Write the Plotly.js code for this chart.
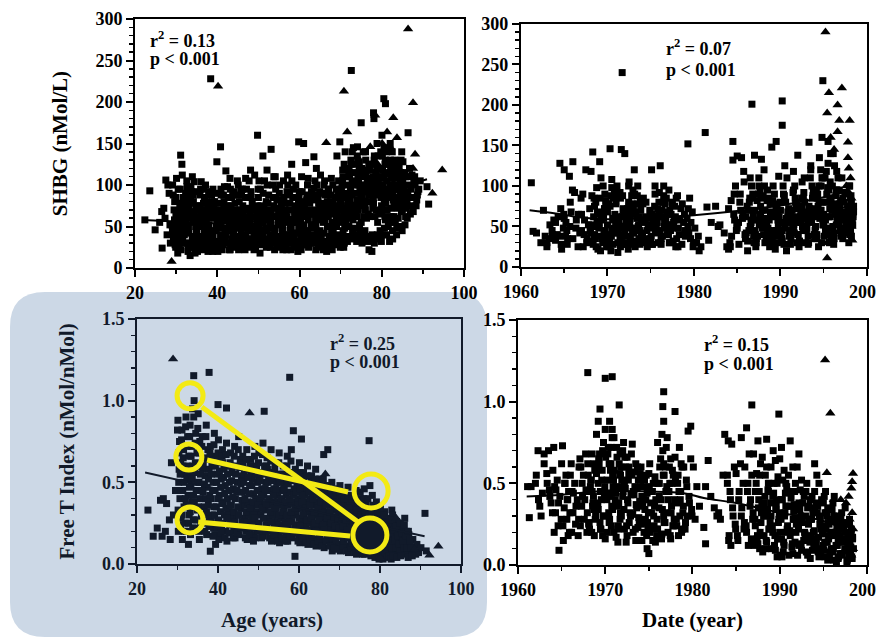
<!DOCTYPE html>
<html>
<head>
<meta charset="utf-8">
<script src="https://cdn.plot.ly/plotly-3.0.1.min.js"></script>
<style>html,body{margin:0;padding:0;background:#fff;}#chart{width:876px;height:638px;}</style>
</head>
<body>
<div id="chart"></div>
<script>
// ---------- Panel 1: Age vs SHBG ----------
const ageSq1 = [
22.4,23.6,24.9,26.6,26.5,27.0,27.5,28.0,28.3,28.5,27.8,28.6,26.0,27.3,
29.1,29.5,29.8,29.3,29.6,29.9,
30.1,30.5,30.8,30.3,30.6,30.9,30.2,30.4,
31.1,31.5,31.8,31.3,31.6,31.9,31.2,31.4,
32.1,32.5,32.8,32.3,32.6,32.9,32.2,32.4,
33.1,33.5,33.8,33.3,33.6,33.9,33.2,33.4,
34.1,34.5,34.8,34.3,34.6,34.9,34.2,34.4,
35.1,35.5,35.8,35.3,35.6,35.9,35.2,
36.1,36.5,36.8,36.3,36.6,36.9,36.2,
37.1,37.5,37.8,37.3,37.6,37.9,37.2,
38.1,38.5,38.8,38.3,38.6,38.9,38.2,
38.4,39.5,39.8,39.3,39.6,39.9,39.2,
39.9,40.5,40.8,40.3,40.6,40.9,40.2,
40.8,41.5,41.8,41.3,41.6,41.9,41.2,
42.1,42.5,42.8,42.3,42.6,42.9,42.2,
43.1,43.5,43.8,43.3,43.6,43.9,43.2,
44.1,44.5,44.8,44.3,44.6,44.9,44.2,
45.1,45.5,45.8,45.3,45.6,45.9,45.2,
46.1,46.5,46.8,46.3,46.6,46.9,46.2,
47.1,47.5,47.8,47.3,47.6,47.9,47.2,
48.1,48.5,48.8,48.3,48.6,48.9,48.2,
49.1,49.5,49.8,49.3,49.6,49.9,49.2,
49.8,50.5,50.8,50.3,50.6,50.9,50.2,50.4,
51.1,51.5,51.8,51.3,51.6,51.9,51.2,
52.1,52.5,52.8,52.3,52.6,52.9,52.2,
53.1,53.5,53.8,53.3,53.6,53.9,53.2,
54.1,54.5,54.8,54.3,54.6,54.9,54.2,
55.1,55.5,55.8,55.3,55.6,55.9,55.2,
56.1,56.5,56.8,56.3,56.6,56.9,56.2,
57.1,57.5,57.8,57.3,57.6,57.9,57.2,
58.1,58.5,58.8,58.3,58.6,58.9,58.2,
59.1,59.5,59.8,59.3,59.6,59.9,59.2,
59.8,60.5,60.8,60.3,60.6,60.9,60.2,60.4,
61.0,61.5,61.8,61.3,61.6,61.9,61.2,
62.1,62.5,62.8,62.3,62.6,62.9,62.2,
63.5,63.5,63.8,63.3,63.6,63.9,63.2,
64.1,64.5,64.8,64.3,64.6,64.9,64.2,
65.1,65.5,65.8,65.3,65.6,65.9,65.2,
66.1,66.5,66.8,66.3,66.6,66.9,66.2,
67.1,67.5,67.8,67.3,67.6,67.9,67.2,
68.1,68.5,68.8,68.3,68.6,68.9,68.2,
69.1,69.5,69.8,69.3,69.6,69.9,69.2,
69.8,70.5,70.8,70.3,70.6,70.9,70.2,
71.1,71.5,71.8,71.3,71.6,71.9,71.2,
72.6,72.5,72.8,72.3,72.6,72.9,72.2,72.4,
73.1,73.5,73.8,73.3,73.6,73.9,73.2,
74.1,74.5,74.8,74.3,74.6,74.9,74.2,
75.0,75.5,75.8,75.3,75.6,75.9,75.2,75.4,
76.1,76.5,76.8,76.3,76.6,76.9,76.2,
77.1,77.5,77.8,77.3,77.6,77.9,77.2,
78.0,78.1,78.8,78.3,78.6,78.9,78.2,78.4,
79.1,79.5,79.8,79.3,79.6,79.9,79.2,
80.5,80.9,80.8,80.3,80.6,80.9,80.2,80.4,
81.1,81.5,81.8,81.3,81.6,81.9,81.2,
82.1,82.5,82.8,82.3,82.6,82.9,82.2,
83.1,83.5,83.8,83.3,83.6,83.9,83.2,
84.1,84.5,84.8,84.3,84.6,84.9,
85.1,85.5,85.8,85.3,85.6,
86.4,86.2,86.5,86.8,86.1,
87.1,87.5,87.8,
88.1,88.5,88.8,
91.0,91.4
];
const shbgSq1 = [
58,93,46,24,68,72,106,100,90,52,40,30,55,60,
45,70,32,88,58,25,
108,95,62,40,28,75,50,18,
136,112,85,55,38,70,22,125,
65,48,30,90,105,20,78,58,
42,85,25,60,98,35,72,15,
55,92,30,68,18,45,80,104,
38,62,88,25,50,75,20,
104,70,45,30,58,85,22,
52,80,35,65,25,92,42,
28,60,75,45,88,20,38,
228,70,50,32,90,22,62,
128,55,40,78,25,95,65,
146,88,60,35,72,48,22,
117,98,50,30,75,62,40,
108,85,55,28,68,42,95,
92,60,35,78,48,105,25,
100,70,45,30,58,88,22,
65,40,85,52,28,108,75,
95,55,35,72,45,25,62,
118,80,50,30,62,40,92,
112,70,45,25,58,85,35,
160,95,60,40,75,28,50,18,
135,105,65,45,30,80,55,
118,88,52,35,70,25,60,
143,100,75,48,30,62,40,
110,82,58,38,25,68,95,
90,65,45,28,75,52,35,
105,78,55,35,62,22,85,
112,70,48,30,88,58,40,
125,95,65,42,25,75,55,
100,72,50,32,20,85,60,
152,110,80,55,35,68,45,22,
150,127,88,62,40,28,75,
108,78,52,35,65,92,25,
134,96,70,48,30,58,82,
120,85,60,42,25,72,100,
112,78,55,38,65,90,28,
105,75,50,32,20,62,88,
95,68,45,28,80,55,38,
100,72,52,35,85,60,42,
135,105,80,58,40,25,68,
152,118,88,62,45,30,75,
140,100,78,55,38,65,90,
238,130,105,82,60,42,70,95,
145,115,90,65,48,32,75,
146,120,95,70,52,38,82,
175,140,110,85,62,45,30,100,
130,105,80,60,38,22,92,
125,98,72,35,20,110,88,
187,180,120,95,70,40,30,105,
135,110,85,65,45,32,120,
204,198,125,100,78,58,40,90,
140,115,90,70,50,32,105,
130,108,82,62,45,95,72,
120,95,72,55,40,85,108,
110,88,68,50,98,75,
105,80,62,92,115,
163,60,100,85,75,
95,75,105,
100,82,92,
98,77
];
// second block of readings, panel 1
const ageSqB1 = [
29.0,29.35,29.65,29.95,29.15,29.75,
30.0,30.35,30.65,30.95,30.15,30.75,
31.0,31.35,31.65,31.95,31.15,31.75,
32.0,32.35,32.65,32.95,32.15,32.75,
33.0,33.35,33.65,33.95,33.15,33.75,
34.0,34.35,34.65,34.95,34.15,34.75,
35.0,35.35,35.65,35.95,35.15,35.75,
36.0,36.35,36.65,36.95,36.15,36.75,
37.0,37.35,37.65,37.95,37.15,37.75,
38.0,38.35,38.65,38.95,38.15,38.75,
39.0,39.35,39.65,39.95,39.15,39.75,
40.0,40.35,40.65,40.95,40.15,40.75,
41.0,41.35,41.65,41.95,41.15,41.75,
42.0,42.35,42.65,42.95,42.15,42.75,
43.0,43.35,43.65,43.95,43.15,43.75,
44.0,44.35,44.65,44.95,44.15,44.75,
45.0,45.35,45.65,45.95,45.15,45.75,
46.0,46.35,46.65,46.95,46.15,46.75,
47.0,47.35,47.65,47.95,47.15,47.75,
48.0,48.35,48.65,48.95,48.15,48.75,
49.0,49.35,49.65,49.95,49.15,49.75,
50.0,50.35,50.65,50.95,50.15,50.75,
51.0,51.35,51.65,51.95,51.15,51.75,
52.0,52.35,52.65,52.95,52.15,52.75,
53.0,53.35,53.65,53.95,53.15,53.75,
54.0,54.35,54.65,54.95,54.15,54.75,
55.0,55.35,55.65,55.95,55.15,55.75,
56.0,56.35,56.65,56.95,56.15,56.75,
57.0,57.35,57.65,57.95,57.15,57.75,
58.0,58.35,58.65,58.95,58.15,58.75,
59.0,59.35,59.65,59.95,59.15,59.75,
60.0,60.35,60.65,60.95,60.15,60.75,
61.0,61.35,61.65,61.95,61.15,61.75,
62.0,62.35,62.65,62.95,62.15,62.75,
63.0,63.35,63.65,63.95,63.15,63.75,
64.0,64.35,64.65,64.95,64.15,64.75,
65.0,65.35,65.65,65.95,65.15,65.75,
66.0,66.35,66.65,66.95,66.15,66.75,
67.0,67.35,67.65,67.95,67.15,67.75,
68.0,68.35,68.65,68.95,68.15,68.75,
69.0,69.35,69.65,69.95,69.15,69.75,
70.0,70.35,70.65,70.95,70.15,70.75,
71.0,71.35,71.65,71.95,71.15,71.75,
72.0,72.35,72.65,72.95,72.15,72.75,
73.0,73.35,73.65,73.95,73.15,73.75,
74.0,74.35,74.65,74.95,74.15,74.75,
75.0,75.35,75.65,75.95,75.15,75.75,
76.0,76.35,76.65,76.95,76.15,76.75,
77.0,77.35,77.65,77.95,77.15,77.75,
78.0,78.35,78.65,78.95,78.15,78.75,
79.0,79.35,79.65,79.95,79.15,79.75,
80.0,80.35,80.65,80.95,80.15,80.75,
81.0,81.35,81.65,81.95,81.15,81.75,
82.0,82.35,82.65,82.95,82.15,82.75,
83.0,83.35,83.65,83.95,83.15,83.75,
84.0,84.35,84.65,84.95,84.15,84.75,
85.0,85.35,85.65,85.95,85.15,85.75,
86.0,86.35,86.65,86.95,86.15,86.75,
87.0,87.35,87.65,
88.0,88.35,88.65,
89.0,89.35
];
const shbgSqB1 = [
52,38,80,65,100,28,
85,55,35,68,45,25,
95,62,45,30,78,50,
40,72,98,25,55,85,
50,30,78,110,65,92,
38,62,25,75,88,50,
45,70,32,95,55,28,
52,38,78,25,65,95,
30,58,72,45,100,20,
52,32,68,95,25,80,
40,80,28,55,75,45,
32,70,48,88,20,58,
52,28,80,42,65,98,
35,58,85,22,68,45,
48,75,35,62,22,88,
42,70,28,88,55,65,
52,80,38,65,25,95,
48,32,70,58,95,22,
40,85,28,65,52,105,
55,35,72,22,85,45,
48,30,65,95,40,75,
85,45,32,68,105,55,
38,72,58,25,90,48,
45,78,30,62,100,40,
55,35,85,22,68,110,
45,72,30,62,85,52,
58,38,82,22,100,48,
45,70,28,92,58,40,
62,35,78,22,100,52,
48,85,32,68,105,38,
42,65,28,92,55,78,
62,38,92,28,75,50,
52,35,68,100,45,82,
45,70,30,85,58,40,
65,38,88,22,52,105,
50,32,78,92,65,38,
45,70,32,100,58,22,
42,68,28,95,58,80,
62,35,88,22,72,108,
48,65,28,95,78,38,
50,88,32,95,75,60,
55,100,38,68,82,25,
48,85,32,110,62,72,
50,90,35,75,115,65,
58,100,40,82,125,68,
62,105,45,88,130,75,
55,92,38,72,120,78,
70,118,32,88,100,65,
62,105,40,82,118,92,
78,62,112,88,130,35,
55,95,38,75,102,140,
68,110,48,85,135,62,
78,125,58,98,40,85,
55,100,35,75,118,88,
62,112,48,80,130,100,
60,82,102,45,120,92,
70,98,52,85,128,110,
72,92,110,65,80,120,
85,112,68,
110,75,88,
95,105
];
// third block of readings, panel 1 (upper band of older ages)
const ageSqC1 = [
70.2,70.55,70.85,70.45,70.05,70.7,
72.2,72.55,72.85,72.45,72.05,72.7,
74.2,74.55,74.85,74.45,74.05,74.7,
76.2,76.55,76.85,76.45,76.05,76.7,
78.2,78.55,78.85,78.45,78.05,78.7,
80.2,80.55,80.85,80.45,80.05,80.7,
82.2,82.55,82.85,82.45,82.05,82.7,
84.2,84.55,84.85,84.45,84.05,84.7
];
const shbgSqC1 = [
95,110,125,105,85,70,
110,125,140,98,120,88,
108,128,115,100,135,92,
112,100,125,95,140,108,
135,115,150,100,125,108,
118,145,130,108,160,95,
112,140,125,100,150,118,
125,108,140,115,95,130
];
const ageTri1 = [28.9,40.2,66.5,70.8,71.6,77.2,78.4,80.1,81.3,82.0,82.8,83.7,84.5,85.2,86.4,87.6,88.1,87.6,92.3,94.7,79.0,80.5];
const shbgTri1 = [8,219,151,213,164,146,184,150,164,146,181,157,118,102,288,199,137,120,90,118,125,112];
const trendAge1 = [22,30,40,50,60,70,80,91];
const trendShbg1 = [58,56,54,57,63,74,90,107];

// ---------- Panel 2: Date vs SHBG ----------
const dateSq2 = [
1961.2,1961.4,1961.8,
1962.3,1962.6,1962.8,
1963.0,1963.3,1963.6,1963.8,
1964.0,1964.3,1964.5,1964.7,1964.9,1964.6,1964.2,
1965.0,1965.2,1965.4,1965.6,1965.8,1965.3,1965.7,
1966.0,1966.2,1966.4,1966.6,1966.8,
1967.0,1967.3,1967.5,1967.8,1967.6,1967.2,
1968.1,1968.5,1968.8,1968.3,1968.6,1968.9,1968.2,1968.4,
1969.1,1969.5,1969.8,1969.3,1969.6,1969.9,1969.2,1969.4,1969.7,1969.0,
1970.3,1970.5,1970.8,1970.3,1970.6,1970.9,1970.2,1970.4,1970.7,1970.0,1970.45,
1971.1,1971.5,1971.8,1971.3,1971.6,1971.9,1971.2,1971.4,1971.7,1971.0,1971.45,
1971.7,1971.6,1972.0,1972.5,1972.8,1972.3,1972.6,1972.9,1972.2,1972.4,1972.7,1972.1,1972.45,
1973.1,1973.5,1973.8,1973.3,1973.6,1973.9,1973.2,1973.4,1973.7,1973.0,
1974.1,1974.5,1974.8,1974.3,1974.6,1974.9,1974.2,
1975.1,1975.5,1975.8,1975.3,1975.6,1975.9,1975.2,1975.4,
1976.1,1976.5,1976.8,1976.3,1976.6,1976.9,1976.2,1976.4,1976.7,1976.0,
1977.1,1977.5,1977.8,1977.3,1977.6,1977.9,1977.2,1977.4,
1978.1,1978.5,1978.8,1978.3,1978.6,1978.9,1978.2,
1979.3,1979.5,1979.8,1979.3,1979.6,1979.9,1979.2,1979.4,
1980.1,1980.5,1980.8,1980.3,1980.6,
1981.3,1981.5,1981.7,
1982.0,1982.5,1982.8,
1983.0,1983.5,1983.8,
1984.5,1984.5,1984.8,1984.3,1984.6,1984.9,1984.2,1984.0,1984.7,
1985.0,1985.5,1985.8,1985.3,1985.6,1985.9,1985.2,1985.4,
1986.7,1986.5,1986.8,1986.3,1986.6,1986.9,1986.2,1986.4,
1987.0,1987.8,1987.5,1987.3,1987.6,1987.9,1987.2,1987.4,1987.7,1987.1,
1988.1,1988.5,1988.8,1988.3,1988.6,1988.9,1988.2,1988.4,1988.7,1988.0,
1989.0,1989.5,1989.8,1989.3,1989.6,1989.9,1989.2,1989.4,1989.7,1989.1,
1990.2,1990.2,1990.5,1990.3,1990.6,1990.9,1990.2,1990.4,1990.7,1990.0,1990.8,
1991.5,1991.5,1991.8,1991.3,1991.6,1991.9,1991.2,1991.4,1991.7,
1992.0,1992.5,1992.8,1992.3,1992.6,1992.9,1992.2,1992.4,1992.7,
1993.3,1993.5,1993.8,1993.3,1993.6,1993.9,1993.2,1993.4,1993.7,1993.0,
1994.9,1994.5,1994.8,1994.3,1994.6,1994.9,1994.2,1994.4,1994.7,1994.0,1994.45,
1994.8,1995.5,1995.8,1995.3,1995.6,1995.9,1995.2,1995.4,1995.7,1995.0,1995.45,1995.75,
1996.1,1996.5,1996.8,1996.3,1996.6,1996.9,1996.2,1996.4,1996.7,1996.0,1996.45,
1997.1,1997.5,1997.8,1997.3,1997.6,1997.9,1997.2,1997.4,1997.7,
1998.0,1998.2,1998.4,1998.1,1998.3,1997.9
];
const shbgSq2 = [
104,44,42,
30,70,38,
25,35,45,58,
33,62,128,22,48,72,40,
120,55,35,112,68,45,80,
130,92,58,25,42,
65,40,120,52,30,25,
118,75,55,142,35,22,88,62,
130,100,78,58,42,28,20,65,90,48,
146,108,92,75,60,45,32,20,85,52,38,
100,85,70,55,40,28,18,62,48,95,35,
240,145,140,105,88,72,58,42,30,22,65,50,80,
120,100,82,68,52,38,25,60,45,30,
78,62,48,35,25,70,55,
120,90,72,58,42,30,65,50,
125,100,85,70,55,40,28,62,48,92,
95,78,60,45,32,25,70,52,
88,72,55,40,28,65,48,
152,85,68,50,35,25,60,42,
48,38,25,30,20,
166,74,33,
55,75,50,
52,42,25,
155,132,100,82,65,45,25,22,58,
137,135,105,80,60,40,28,70,
201,110,90,70,55,38,20,80,
138,133,100,82,65,48,30,58,75,40,
120,95,78,60,45,28,70,52,38,88,
148,155,112,90,72,55,38,22,65,82,
205,175,125,100,80,62,45,28,20,70,55,
118,95,75,58,42,30,65,50,85,
138,105,80,62,45,30,72,55,92,
154,120,95,75,58,40,28,65,85,50,
230,135,110,90,70,52,35,25,100,62,80,
160,155,140,118,95,75,58,40,85,65,48,105,
140,118,95,78,60,45,35,88,70,100,52,
110,92,75,58,42,30,85,65,50,
100,80,62,45,70,55
];
// second block of readings, panel 2
const dateSqB2 = [
1963.0,1963.35,1963.65,
1964.0,1964.35,1964.65,1964.95,
1965.0,1965.35,1965.65,1965.95,1965.15,
1966.0,1966.35,1966.65,1966.95,
1967.0,1967.35,1967.65,1967.95,1967.15,
1968.0,1968.35,1968.65,1968.95,1968.15,1968.75,1968.5,
1969.0,1969.35,1969.65,1969.95,1969.15,1969.75,1969.5,1969.25,
1970.0,1970.35,1970.65,1970.95,1970.15,1970.75,1970.5,1970.25,
1971.0,1971.35,1971.65,1971.95,1971.15,1971.75,1971.5,1971.25,
1972.0,1972.35,1972.65,1972.95,1972.15,1972.75,1972.5,1972.25,
1973.0,1973.35,1973.65,1973.95,1973.15,1973.75,1973.5,
1974.0,1974.35,1974.65,1974.95,1974.15,1974.75,
1975.0,1975.35,1975.65,1975.95,1975.15,1975.75,1975.5,
1976.0,1976.35,1976.65,1976.95,1976.15,1976.75,1976.5,
1977.0,1977.35,1977.65,1977.95,1977.15,1977.75,
1978.0,1978.35,1978.65,1978.95,1978.15,
1979.0,1979.35,1979.65,1979.95,
1984.0,1984.35,1984.65,1984.95,1984.15,
1985.0,1985.35,1985.65,1985.95,1985.15,1985.75,
1986.0,1986.35,1986.65,1986.95,1986.15,1986.75,1986.5,
1987.0,1987.35,1987.65,1987.95,1987.15,1987.75,1987.5,
1988.0,1988.35,1988.65,1988.95,1988.15,1988.75,1988.5,
1989.0,1989.35,1989.65,1989.95,1989.15,1989.75,1989.5,
1990.0,1990.35,1990.65,1990.95,1990.15,1990.75,1990.5,
1991.0,1991.35,1991.65,1991.95,1991.15,1991.75,1991.5,
1992.0,1992.35,1992.65,1992.95,1992.15,1992.75,1992.5,
1993.0,1993.35,1993.65,1993.95,1993.15,1993.75,1993.5,1993.25,
1994.0,1994.35,1994.65,1994.95,1994.15,1994.75,1994.5,1994.25,1994.85,
1995.0,1995.35,1995.65,1995.95,1995.15,1995.75,1995.5,1995.25,1995.85,
1996.0,1996.35,1996.65,1996.95,1996.15,1996.75,1996.5,1996.25,1996.85,
1997.0,1997.35,1997.65,1997.95,1997.15,1997.75,1997.5,1997.25,
1998.0,1998.35,1998.15,1998.25,1998.45
];
const shbgSqB2 = [
30,52,40,
55,38,28,65,
60,28,50,95,38,
35,48,65,85,
45,58,35,72,90,
45,28,80,65,52,98,40,
55,35,72,25,85,45,62,110,
68,40,28,55,78,48,98,35,
78,52,30,65,42,88,25,58,
45,68,35,95,55,28,75,62,
72,48,35,58,90,28,78,
42,58,30,68,85,50,
35,62,48,80,28,55,100,
65,38,78,52,30,58,88,
40,65,55,85,30,75,
35,58,78,45,25,
38,72,55,30,
72,38,90,52,30,
48,90,65,35,55,118,
62,45,100,30,75,85,50,
70,38,92,55,25,85,110,
55,35,85,65,100,25,42,
45,62,30,80,100,50,70,
38,90,58,72,35,110,48,
38,70,100,55,28,80,45,
40,65,85,50,25,110,75,
45,72,100,35,58,88,125,30,
45,75,120,58,95,30,68,85,110,
52,90,30,70,110,62,128,80,35,
40,65,110,82,28,55,95,125,72,
38,80,55,100,68,45,90,60,
40,65,88,58,75
];
// third block of readings, panel 2 (densest years)
const dateSqC2 = [
1968.2,1968.55,1968.85,1968.45,1968.05,1968.7,
1969.2,1969.55,1969.85,1969.45,1969.05,1969.7,
1970.2,1970.55,1970.85,1970.45,1970.05,1970.7,
1971.2,1971.55,1971.85,1971.45,1971.05,1971.7,
1972.2,1972.55,1972.85,1972.45,1972.05,1972.7,
1973.2,1973.55,1973.85,1973.45,1973.05,1973.7,
1974.2,1974.55,1974.85,1974.45,1974.05,1974.7,
1975.2,1975.55,1975.85,1975.45,1975.05,1975.7,
1976.2,1976.55,1976.85,1976.45,1976.05,1976.7,
1977.2,1977.55,1977.85,1977.45,1977.05,1977.7,
1986.2,1986.55,1986.85,1986.45,1986.05,1986.7,
1987.2,1987.55,1987.85,1987.45,1987.05,1987.7,
1988.2,1988.55,1988.85,1988.45,1988.05,1988.7,
1989.2,1989.55,1989.85,1989.45,1989.05,1989.7,
1990.2,1990.55,1990.85,1990.45,1990.05,1990.7,
1991.2,1991.55,1991.85,1991.45,1991.05,1991.7,
1992.2,1992.55,1992.85,1992.45,1992.05,1992.7,
1993.2,1993.55,1993.85,1993.45,1993.05,1993.7,
1994.2,1994.55,1994.85,1994.45,1994.05,1994.7,
1995.2,1995.55,1995.85,1995.45,1995.05,1995.7,
1996.2,1996.55,1996.85,1996.45,1996.05,1996.7,
1997.2,1997.55,1997.85,1997.45,1997.05,1997.7,
1998.2,1998.35,1998.45,1998.1,1998.05,1998.3
];
const shbgSqC2 = [
32,50,68,85,42,25,
38,60,82,30,52,72,
25,45,65,88,35,58,
30,50,72,92,42,62,
38,55,78,100,28,48,
32,50,70,88,42,62,
30,45,60,80,38,52,
28,45,62,75,38,55,
35,50,68,80,45,60,
30,48,62,80,40,58,
32,48,65,85,42,58,
35,52,70,90,45,62,
30,48,68,82,40,58,
28,45,62,78,35,58,
32,50,68,88,42,60,
35,52,72,92,45,62,
32,50,68,85,40,60,
38,55,72,110,48,65,
40,60,80,100,50,70,
45,62,80,98,38,72,
42,60,78,95,50,68,
35,55,72,92,48,62,
38,52,68,85,45,60
];
const dateTri2 = [1995.2,1997.1,1995.6,1996.6,1995.4,1996.8,1998.0,1996.6,1997.8,1997.8,1997.9,1998.3,1995.4,1995.4,1998.1,1997.6,1997.9,1998.2,1997.7,1998.0,1997.5,1998.2,1996.2,1995.8];
const shbgTri2 = [290,221,215,200,190,181,181,167,154,135,122,33,11,30,110,100,92,85,75,68,60,50,145,160];
const trendDate2 = [1961,1964,1967,1970,1975,1980,1985,1990,1995,1997.5];
const trendShbg2 = [70,66,61,59,61,64,69,76,86,93];

// ---------- Panel 3: Age vs Free T Index ----------
const ageSq3 = [
22.7,24.0,25.0,25.8,26.5,26.2,27.0,27.3,28.0,28.5,29.5,29.0,28.2,
30.1,30.5,30.8,30.3,30.6,30.9,30.2,30.4,
31.1,31.5,31.8,31.3,31.6,31.9,31.2,31.4,
32.1,32.5,32.8,32.3,32.6,32.9,32.2,32.4,32.7,
33.1,33.5,33.8,33.3,33.6,33.9,33.2,33.4,33.7,
34.1,34.5,34.8,34.3,34.6,34.9,34.2,34.4,
35.1,35.5,35.8,35.3,35.6,35.9,35.2,35.4,
36.1,36.5,36.8,36.3,36.6,36.9,36.2,
37.1,37.5,37.8,37.3,37.6,37.9,37.2,
38.1,38.5,38.8,38.3,38.6,38.9,38.2,
39.1,39.5,39.8,39.3,39.6,39.9,39.2,39.4,
40.1,40.5,40.8,40.3,40.6,40.9,40.2,
41.1,41.5,41.8,41.3,41.6,41.9,41.2,
42.1,42.5,42.8,42.3,42.6,42.9,42.2,
43.1,43.5,43.8,43.3,43.6,43.9,43.2,
44.1,44.5,44.8,44.3,44.6,44.9,44.2,
45.1,45.5,45.8,45.3,45.6,45.9,45.2,
46.1,46.5,46.8,46.3,46.6,46.9,46.2,
47.1,47.5,47.8,47.3,47.6,47.9,47.2,
48.1,48.5,48.8,48.3,48.6,48.9,48.2,
49.1,49.5,49.8,49.3,49.6,49.9,49.2,
50.1,50.5,50.8,50.3,50.6,50.9,50.2,
51.1,51.5,51.8,51.3,51.6,51.9,51.2,
52.1,52.5,52.8,52.3,52.6,52.9,52.2,
53.1,53.5,53.8,53.3,53.6,53.9,53.2,
54.1,54.5,54.8,54.3,54.6,54.9,54.2,
55.1,55.5,55.8,55.3,55.6,55.9,55.2,
56.1,56.5,56.8,56.3,56.6,56.9,56.2,
57.1,57.5,57.8,57.3,57.6,57.9,57.2,
58.1,58.5,58.8,58.3,58.6,58.9,58.2,
59.1,59.5,59.8,59.3,59.6,59.9,59.2,
60.1,60.5,60.8,60.3,60.6,60.9,60.2,
61.1,61.5,61.8,61.3,61.6,61.9,61.2,
62.1,62.5,62.8,62.3,62.6,62.9,62.2,
63.1,63.5,63.8,63.3,63.6,63.9,63.2,
64.1,64.5,64.8,64.3,64.6,64.9,64.2,
65.1,65.5,65.8,65.3,65.6,65.9,65.2,
66.1,66.5,66.8,66.3,66.6,66.9,66.2,
67.1,67.5,67.8,67.3,67.6,67.9,67.2,
68.1,68.5,68.8,68.3,68.6,68.9,68.2,
69.1,69.5,69.8,69.3,69.6,69.9,69.2,
70.1,70.5,70.8,70.3,70.6,70.9,70.2,
71.1,71.5,71.8,71.3,71.6,71.9,71.2,
72.1,72.5,72.8,72.3,72.6,72.9,72.2,
73.1,73.5,73.8,73.3,73.6,73.9,73.2,
74.1,74.5,74.8,74.3,74.6,74.9,74.2,
75.1,75.5,75.8,75.3,75.6,75.9,75.2,
76.1,76.5,76.8,76.3,76.6,76.9,76.2,
77.3,77.5,77.8,77.3,77.6,77.9,77.2,
78.1,78.5,78.8,78.3,78.6,78.9,78.2,
79.1,79.5,79.8,79.3,79.6,79.9,79.2,
80.1,80.5,80.8,80.3,80.6,80.9,80.2,
81.1,81.5,81.8,81.3,81.6,81.9,
82.1,82.5,82.8,82.3,82.6,82.9,
83.1,83.5,83.8,83.3,83.6,
84.1,84.5,84.8,84.3,84.6,
85.1,85.5,85.8,85.3,
86.1,86.5,86.8,86.3,
87.1,87.5,87.8,
88.1,88.5,88.8,
89.1,89.5,
90.1,
91.1,91.4,
34.0,37.8,40.0,42.1,51.4,57.7,58.6,60.6,38.1,59.0
];
const ftiSq3 = [
0.33,0.17,0.22,0.39,0.40,0.17,0.20,0.37,0.27,0.62,0.45,0.30,0.15,
0.88,0.75,0.62,0.5,0.4,0.28,0.2,0.58,
0.82,0.7,0.55,0.45,0.35,0.25,0.15,0.65,
0.9,0.78,0.66,0.52,0.42,0.3,0.2,0.6,0.12,
0.85,0.72,0.6,0.48,0.38,0.27,0.18,0.55,0.95,
1.0,0.8,0.68,0.56,0.45,0.33,0.22,0.62,
0.92,0.75,0.6,0.5,0.4,0.3,0.2,0.15,
0.78,0.65,0.54,0.44,0.35,0.25,0.58,
0.85,0.7,0.58,0.47,0.36,0.28,0.18,
0.72,0.6,0.5,0.4,0.3,0.22,0.65,
0.8,0.66,0.55,0.45,0.35,0.26,0.18,0.12,
0.76,0.62,0.52,0.42,0.32,0.22,0.15,
0.7,0.58,0.48,0.38,0.3,0.2,0.62,
0.74,0.6,0.5,0.4,0.32,0.24,0.14,
0.68,0.56,0.46,0.36,0.28,0.2,0.6,
0.72,0.6,0.5,0.4,0.3,0.22,0.16,
0.78,0.64,0.54,0.44,0.34,0.26,0.18,
0.66,0.55,0.45,0.36,0.28,0.2,0.6,
0.7,0.58,0.48,0.38,0.3,0.22,0.15,
0.64,0.52,0.43,0.34,0.26,0.18,0.56,
0.72,0.6,0.5,0.4,0.32,0.24,0.16,
0.68,0.56,0.46,0.38,0.3,0.2,0.52,
0.74,0.6,0.5,0.42,0.33,0.24,0.17,
0.65,0.54,0.45,0.36,0.28,0.2,0.58,
0.7,0.56,0.46,0.38,0.3,0.22,0.14,
0.62,0.5,0.42,0.34,0.26,0.18,0.54,
0.68,0.55,0.45,0.36,0.28,0.2,0.13,
0.6,0.5,0.42,0.34,0.26,0.18,0.46,
0.66,0.54,0.44,0.36,0.28,0.2,0.14,
0.7,0.56,0.46,0.38,0.3,0.22,0.16,
0.58,0.48,0.4,0.32,0.24,0.18,0.52,
0.62,0.5,0.42,0.34,0.27,0.2,0.13,
0.56,0.46,0.38,0.3,0.23,0.16,0.5,
0.6,0.48,0.4,0.32,0.25,0.18,0.12,
0.54,0.44,0.36,0.29,0.22,0.15,0.48,
0.58,0.46,0.38,0.3,0.24,0.17,0.11,
0.52,0.42,0.35,0.28,0.21,0.14,0.46,
0.67,0.48,0.4,0.32,0.25,0.18,0.1,
0.7,0.44,0.36,0.29,0.22,0.15,0.38,
0.5,0.4,0.33,0.26,0.2,0.13,0.08,
0.46,0.38,0.31,0.25,0.19,0.12,0.42,
0.48,0.4,0.32,0.26,0.2,0.14,0.08,
0.44,0.36,0.3,0.24,0.18,0.11,0.4,
0.47,0.38,0.31,0.25,0.19,0.13,0.07,
0.42,0.35,0.28,0.22,0.16,0.1,0.38,
0.45,0.37,0.3,0.24,0.18,0.12,0.06,
0.44,0.34,0.27,0.21,0.15,0.09,0.4,
0.46,0.36,0.29,0.23,0.17,0.11,0.06,
0.755,0.48,0.33,0.26,0.2,0.14,0.08,
0.42,0.3,0.24,0.18,0.12,0.06,0.36,
0.38,0.3,0.23,0.17,0.11,0.06,0.26,
0.34,0.27,0.21,0.15,0.1,0.05,0.3,
0.32,0.25,0.19,0.14,0.09,0.28,
0.28,0.22,0.17,0.12,0.08,0.33,
0.3,0.24,0.18,0.13,0.08,
0.26,0.2,0.15,0.1,0.06,
0.22,0.17,0.12,0.08,
0.28,0.2,0.14,0.06,
0.18,0.12,0.08,
0.15,0.1,0.06,
0.12,0.07,
0.1,
0.31,0.08,
1.153,1.173,0.976,0.955,0.935,1.143,0.816,0.765,0.078,0.047
];
// second block of readings, panel 3
const ageSqB3 = [
30.0,30.35,30.65,30.95,30.15,30.75,
31.0,31.35,31.65,31.95,31.15,31.75,
32.0,32.35,32.65,32.95,32.15,32.75,
33.0,33.35,33.65,33.95,33.15,33.75,
34.0,34.35,34.65,34.95,34.15,34.75,
35.0,35.35,35.65,35.95,35.15,35.75,
36.0,36.35,36.65,36.95,36.15,36.75,
37.0,37.35,37.65,37.95,37.15,37.75,
38.0,38.35,38.65,38.95,38.15,38.75,
39.0,39.35,39.65,39.95,39.15,39.75,
40.0,40.35,40.65,40.95,40.15,40.75,
41.0,41.35,41.65,41.95,41.15,41.75,
42.0,42.35,42.65,42.95,42.15,42.75,
43.0,43.35,43.65,43.95,43.15,43.75,
44.0,44.35,44.65,44.95,44.15,44.75,
45.0,45.35,45.65,45.95,45.15,45.75,
46.0,46.35,46.65,46.95,46.15,46.75,
47.0,47.35,47.65,47.95,47.15,47.75,
48.0,48.35,48.65,48.95,48.15,48.75,
49.0,49.35,49.65,49.95,49.15,49.75,
50.0,50.35,50.65,50.95,50.15,50.75,
51.0,51.35,51.65,51.95,51.15,51.75,
52.0,52.35,52.65,52.95,52.15,52.75,
53.0,53.35,53.65,53.95,53.15,53.75,
54.0,54.35,54.65,54.95,54.15,54.75,
55.0,55.35,55.65,55.95,55.15,55.75,
56.0,56.35,56.65,56.95,56.15,56.75,
57.0,57.35,57.65,57.95,57.15,57.75,
58.0,58.35,58.65,58.95,58.15,58.75,
59.0,59.35,59.65,59.95,59.15,59.75,
60.0,60.35,60.65,60.95,60.15,60.75,
61.0,61.35,61.65,61.95,61.15,61.75,
62.0,62.35,62.65,62.95,62.15,62.75,
63.0,63.35,63.65,63.95,63.15,63.75,
64.0,64.35,64.65,64.95,64.15,64.75,
65.0,65.35,65.65,65.95,65.15,65.75,
66.0,66.35,66.65,66.95,66.15,66.75,
67.0,67.35,67.65,67.95,67.15,67.75,
68.0,68.35,68.65,68.95,68.15,68.75,
69.0,69.35,69.65,69.95,69.15,69.75,
70.0,70.35,70.65,70.95,70.15,70.75,
71.0,71.35,71.65,71.95,71.15,71.75,
72.0,72.35,72.65,72.95,72.15,72.75,
73.0,73.35,73.65,73.95,73.15,73.75,
74.0,74.35,74.65,74.95,74.15,74.75,
75.0,75.35,75.65,75.95,75.15,75.75,
76.0,76.35,76.65,76.95,76.15,76.75,
77.0,77.35,77.65,77.95,77.15,77.75,
78.0,78.35,78.65,78.95,78.15,78.75,
79.0,79.35,79.65,79.95,79.15,79.75,
80.0,80.35,80.65,80.95,80.15,80.75,
81.0,81.35,81.65,81.95,81.15,81.75,
82.0,82.35,82.65,82.95,82.15,82.75,
83.0,83.35,83.65,83.95,83.15,
84.0,84.35,84.65,84.95,84.15,
85.0,85.35,85.65,85.95,85.15,
86.0,86.35,86.65,86.95,
87.0,87.35,87.65,87.95
];
const ftiSqB3 = [
0.82,0.68,0.55,0.45,0.33,0.24,
0.76,0.6,0.5,0.4,0.3,0.2,
0.84,0.72,0.57,0.47,0.36,0.25,
0.78,0.66,0.52,0.42,0.32,0.22,
0.9,0.74,0.6,0.5,0.38,0.27,
0.83,0.68,0.55,0.45,0.35,0.25,
0.72,0.6,0.49,0.4,0.3,0.2,
0.78,0.64,0.52,0.42,0.32,0.23,
0.68,0.55,0.45,0.35,0.26,0.17,
0.73,0.6,0.5,0.4,0.3,0.22,
0.68,0.57,0.47,0.37,0.27,0.19,
0.66,0.53,0.43,0.34,0.25,0.16,
0.67,0.55,0.45,0.36,0.28,0.19,
0.62,0.51,0.41,0.32,0.24,0.16,
0.66,0.55,0.45,0.35,0.26,0.19,
0.7,0.59,0.49,0.39,0.3,0.22,
0.6,0.5,0.4,0.32,0.24,0.16,
0.64,0.53,0.43,0.34,0.26,0.18,
0.6,0.48,0.38,0.3,0.22,0.14,
0.66,0.55,0.45,0.36,0.28,0.2,
0.62,0.51,0.42,0.34,0.25,0.16,
0.67,0.55,0.46,0.37,0.28,0.2,
0.6,0.5,0.4,0.32,0.24,0.16,
0.63,0.51,0.42,0.34,0.26,0.18,
0.58,0.46,0.38,0.3,0.22,0.14,
0.62,0.5,0.4,0.32,0.24,0.16,
0.55,0.46,0.38,0.3,0.22,0.14,
0.6,0.49,0.4,0.32,0.24,0.17,
0.63,0.51,0.42,0.34,0.26,0.19,
0.55,0.44,0.36,0.28,0.21,0.14,
0.56,0.46,0.38,0.3,0.23,0.16,
0.53,0.42,0.34,0.27,0.2,0.13,
0.54,0.44,0.36,0.28,0.21,0.15,
0.5,0.4,0.32,0.25,0.18,0.12,
0.52,0.42,0.34,0.27,0.2,0.14,
0.49,0.38,0.31,0.24,0.17,0.11,
0.52,0.44,0.36,0.28,0.21,0.14,
0.48,0.4,0.32,0.25,0.18,0.11,
0.45,0.36,0.29,0.23,0.16,0.1,
0.42,0.34,0.28,0.22,0.15,0.09,
0.44,0.36,0.29,0.23,0.17,0.11,
0.4,0.33,0.27,0.21,0.14,0.08,
0.42,0.34,0.28,0.22,0.16,0.1,
0.4,0.31,0.25,0.19,0.13,0.07,
0.41,0.33,0.27,0.21,0.15,0.09,
0.38,0.3,0.24,0.18,0.12,0.06,
0.4,0.32,0.26,0.2,0.14,0.08,
0.4,0.3,0.23,0.17,0.11,0.05,
0.33,0.27,0.21,0.15,0.09,0.04,
0.34,0.27,0.2,0.14,0.08,0.03,
0.32,0.24,0.18,0.12,0.07,0.03,
0.3,0.22,0.16,0.11,0.06,0.04,
0.25,0.19,0.14,0.1,0.05,0.03,
0.27,0.21,0.15,0.1,0.05,
0.23,0.17,0.12,0.08,0.04,
0.25,0.19,0.14,0.1,0.05,
0.24,0.17,0.1,0.04,
0.2,0.15,0.1,0.05
];
const ageTri3 = [28.9,47.8,66.5,94.4,92.2,80.1,84.0,88.5];
const ftiTri3 = [1.255,0.924,0.551,0.108,0.053,0.037,0.28,0.09];
const trendAge3 = [22,40,60,80,91];
const trendFti3 = [0.56,0.46,0.345,0.23,0.17];

// ---------- Panel 4: Date vs Free T Index ----------
const dateSq4 = [
1961.1,1961.5,1961.3,
1962.5,1962.3,1962.8,1962.1,
1963.0,1963.3,1963.6,1963.8,1963.5,
1964.1,1964.5,1964.8,1964.3,1964.6,1964.7,1964.2,
1965.1,1965.5,1965.8,1965.3,1965.6,1965.9,1965.2,1965.4,1965.7,
1966.1,1966.5,1966.8,1966.3,1966.6,1966.9,1966.2,
1967.1,1967.5,1967.8,1967.3,1967.6,1967.9,1967.2,1967.4,
1968.0,1968.5,1968.8,1968.3,1968.6,1968.9,1968.2,1968.4,1968.7,1968.1,
1969.4,1969.2,1969.8,1969.3,1969.6,1969.9,1969.2,1969.4,1969.7,1969.0,1969.45,
1970.0,1970.5,1970.8,1970.3,1970.6,1970.9,1970.2,1970.4,1970.7,1970.0,1970.45,1970.75,
1970.8,1971.6,1970.8,1971.3,1971.6,1971.9,1971.2,1971.4,1971.7,1971.0,1971.45,1971.75,
1972.1,1972.5,1972.8,1972.3,1972.6,1972.9,1972.2,1972.4,1972.7,1972.0,
1973.1,1973.5,1973.8,1973.3,1973.6,1973.9,1973.2,1973.4,
1974.1,1974.5,1974.8,1974.3,1974.6,1974.9,1974.2,1974.4,
1975.1,1975.5,1975.8,1975.3,1975.6,1975.9,1974.8,1975.0,1975.4,
1976.7,1976.6,1976.7,1976.5,1976.6,1976.9,1976.2,1976.4,1976.7,1976.0,1976.45,1976.75,
1977.1,1977.5,1977.8,1977.3,1977.6,1977.9,1977.2,1977.4,
1978.0,1978.5,1978.8,1978.3,1978.6,1978.9,1978.2,1978.4,
1979.8,1979.5,1979.8,1979.3,1979.6,1979.9,1979.2,1979.4,
1980.1,1980.5,1980.8,1980.3,
1981.8,1981.5,1981.3,1981.5,
1982.1,1982.5,1982.8,
1983.7,1983.5,1984.0,1983.2,1983.0,
1984.1,1984.5,1984.8,1984.3,1984.6,1984.9,1984.2,1984.4,
1985.6,1985.5,1985.8,1985.3,1985.6,1985.9,1985.2,
1986.2,1986.5,1986.8,1986.3,1986.6,1986.9,1986.2,1986.4,
1986.8,1987.5,1987.8,1987.3,1987.6,1987.9,1987.2,1987.4,1987.7,
1988.5,1988.5,1988.8,1988.3,1988.6,1988.9,1988.2,1988.4,1988.7,
1989.9,1989.5,1989.8,1989.3,1989.6,1989.9,1989.2,1989.4,1989.7,1989.0,
1990.2,1990.5,1990.8,1990.3,1990.6,1990.9,1990.2,1990.4,1990.7,1990.0,
1991.2,1991.5,1991.8,1991.3,1991.6,1991.9,1991.2,1991.4,1991.7,
1992.2,1992.5,1992.8,1992.3,1992.6,1992.9,1992.2,1992.4,
1993.1,1993.5,1993.8,1993.3,1993.6,1993.9,1993.2,1993.4,
1994.0,1994.5,1994.8,1994.3,1994.6,1994.9,1994.2,1994.4,1994.7,1994.0,
1995.1,1995.5,1995.8,1995.3,1995.6,1995.9,1995.2,1995.4,1995.7,1995.0,
1996.1,1996.5,1996.8,1996.3,1996.6,1996.9,1996.2,1996.4,1996.7,
1997.1,1997.5,1997.8,1997.3,1997.6,1997.9,1997.2,
1998.0,1998.2,1997.9,1998.1
];
const ftiSq4 = [
0.48,0.48,0.29,
0.36,0.70,0.44,0.55,
0.68,0.56,0.46,0.38,0.70,
0.72,0.52,0.42,0.32,0.24,0.09,0.48,
0.73,0.55,0.45,0.35,0.28,0.2,0.15,0.5,0.4,
0.62,0.5,0.4,0.32,0.25,0.18,0.45,
0.65,0.55,0.46,0.36,0.28,0.2,0.6,0.42,
1.178,0.68,0.58,0.48,0.38,0.3,0.22,0.52,0.34,0.25,
0.955,0.88,0.75,0.62,0.52,0.42,0.34,0.26,0.18,0.56,0.45,
1.143,0.88,0.78,0.68,0.58,0.48,0.4,0.32,0.24,0.16,0.62,0.44,
1.153,0.98,0.83,0.72,0.62,0.52,0.44,0.36,0.28,0.2,0.14,0.55,
0.75,0.66,0.56,0.47,0.38,0.3,0.22,0.14,0.6,0.42,
0.74,0.62,0.52,0.43,0.35,0.27,0.2,0.48,
0.6,0.52,0.44,0.36,0.28,0.22,0.15,0.4,
0.62,0.5,0.4,0.32,0.24,0.18,0.1,0.07,0.45,
1.061,0.97,0.88,0.8,0.7,0.6,0.5,0.4,0.3,0.22,0.16,0.55,
0.78,0.65,0.55,0.45,0.36,0.28,0.2,0.5,
0.94,0.72,0.6,0.5,0.4,0.32,0.24,0.18,
0.85,0.82,0.65,0.52,0.42,0.34,0.26,0.3,
0.6,0.48,0.36,0.28,
0.64,0.48,0.23,0.13,
0.42,0.35,0.3,
0.8,0.55,0.5,0.28,0.32,
0.76,0.74,0.6,0.45,0.35,0.25,0.18,0.12,
0.78,0.62,0.5,0.4,0.3,0.22,0.15,
0.84,0.68,0.55,0.45,0.36,0.28,0.2,0.12,
0.98,0.76,0.62,0.5,0.4,0.32,0.24,0.16,0.1,
0.77,0.6,0.5,0.42,0.34,0.26,0.18,0.1,0.45,
0.924,0.64,0.54,0.44,0.36,0.28,0.2,0.12,0.05,0.3,
0.72,0.58,0.48,0.4,0.32,0.24,0.16,0.08,0.36,0.2,
0.76,0.6,0.5,0.41,0.33,0.25,0.18,0.11,0.28,
0.68,0.52,0.42,0.34,0.26,0.19,0.12,0.3,
0.5,0.4,0.32,0.25,0.18,0.12,0.06,0.28,
0.62,0.5,0.4,0.32,0.25,0.19,0.13,0.08,0.22,0.35,
0.42,0.35,0.28,0.22,0.16,0.1,0.05,0.3,0.18,0.12,
0.38,0.3,0.24,0.18,0.12,0.07,0.03,0.2,0.14,
0.32,0.25,0.19,0.14,0.09,0.05,0.22,
0.28,0.2,0.14,0.08
];
// second block of readings, panel 4
const dateSqB4 = [
1962.0,1962.35,1962.65,
1963.0,1963.35,1963.65,1963.95,
1964.0,1964.35,1964.65,1964.95,1964.15,
1965.0,1965.35,1965.65,1965.95,1965.15,1965.75,
1966.0,1966.35,1966.65,1966.95,1966.15,
1967.0,1967.35,1967.65,1967.95,1967.15,1967.75,
1968.0,1968.35,1968.65,1968.95,1968.15,1968.75,1968.5,
1969.0,1969.35,1969.65,1969.95,1969.15,1969.75,1969.5,1969.25,
1970.0,1970.35,1970.65,1970.95,1970.15,1970.75,1970.5,1970.25,1970.85,
1971.0,1971.35,1971.65,1971.95,1971.15,1971.75,1971.5,1971.25,1971.85,
1972.0,1972.35,1972.65,1972.95,1972.15,1972.75,1972.5,1972.25,
1973.0,1973.35,1973.65,1973.95,1973.15,1973.75,1973.5,
1974.0,1974.35,1974.65,1974.95,1974.15,1974.75,
1975.0,1975.35,1975.65,1975.95,1975.15,1975.75,
1976.0,1976.35,1976.65,1976.95,1976.15,1976.75,1976.5,1976.25,
1977.0,1977.35,1977.65,1977.95,1977.15,1977.75,1977.5,
1978.0,1978.35,1978.65,1978.95,1978.15,1978.75,
1979.0,1979.35,1979.65,1979.95,1979.15,
1984.0,1984.35,1984.65,1984.95,1984.15,
1985.0,1985.35,1985.65,1985.95,1985.15,
1986.0,1986.35,1986.65,1986.95,1986.15,1986.75,
1987.0,1987.35,1987.65,1987.95,1987.15,1987.75,1987.5,
1988.0,1988.35,1988.65,1988.95,1988.15,1988.75,1988.5,
1989.0,1989.35,1989.65,1989.95,1989.15,1989.75,1989.5,1989.25,
1990.0,1990.35,1990.65,1990.95,1990.15,1990.75,1990.5,1990.25,
1991.0,1991.35,1991.65,1991.95,1991.15,1991.75,1991.5,
1992.0,1992.35,1992.65,1992.95,1992.15,1992.75,1992.5,
1993.0,1993.35,1993.65,1993.95,1993.15,1993.75,1993.5,
1994.0,1994.35,1994.65,1994.95,1994.15,1994.75,1994.5,1994.25,
1995.0,1995.35,1995.65,1995.95,1995.15,1995.75,1995.5,1995.25,
1996.0,1996.35,1996.65,1996.95,1996.15,1996.75,1996.5,1996.25,
1997.0,1997.35,1997.65,1997.95,1997.15,1997.75,1997.5,
1998.0,1998.35,1998.15,1998.25
];
const ftiSqB4 = [
0.5,0.4,0.3,
0.62,0.5,0.42,0.32,
0.58,0.46,0.38,0.28,0.2,
0.62,0.5,0.4,0.32,0.24,0.18,
0.55,0.44,0.36,0.28,0.2,
0.6,0.5,0.4,0.32,0.24,0.68,
0.62,0.52,0.42,0.34,0.26,0.18,0.45,
0.8,0.68,0.58,0.48,0.38,0.3,0.22,0.65,
0.83,0.72,0.62,0.52,0.44,0.36,0.28,0.2,0.55,
0.78,0.66,0.56,0.48,0.4,0.32,0.24,0.17,0.6,
0.7,0.6,0.52,0.43,0.34,0.26,0.18,0.66,
0.68,0.57,0.47,0.39,0.31,0.23,0.15,
0.56,0.48,0.4,0.32,0.25,0.18,
0.56,0.45,0.36,0.28,0.2,0.14,
0.75,0.65,0.55,0.45,0.35,0.26,0.19,0.6,
0.72,0.6,0.5,0.4,0.32,0.24,0.16,
0.66,0.55,0.45,0.36,0.28,0.2,
0.6,0.48,0.38,0.3,0.22,
0.55,0.4,0.3,0.22,0.15,
0.56,0.45,0.35,0.26,0.18,
0.6,0.5,0.4,0.32,0.24,0.16,
0.68,0.56,0.45,0.36,0.28,0.2,0.13,
0.66,0.55,0.46,0.38,0.3,0.22,0.14,
0.6,0.5,0.4,0.32,0.24,0.16,0.09,0.7,
0.65,0.52,0.44,0.36,0.28,0.2,0.12,0.05,
0.55,0.45,0.37,0.29,0.21,0.14,0.07,
0.6,0.46,0.38,0.3,0.22,0.15,0.09,
0.45,0.36,0.28,0.21,0.15,0.09,0.04,
0.45,0.36,0.28,0.21,0.16,0.1,0.05,0.55,
0.38,0.32,0.25,0.2,0.14,0.08,0.03,0.45,
0.34,0.27,0.21,0.16,0.1,0.05,0.02,0.42,
0.28,0.22,0.16,0.12,0.07,0.03,0.35,
0.25,0.17,0.11,0.05
];
// third block of readings, panel 4 (densest years)
const dateSqC4 = [
1968.2,1968.55,1968.85,1968.45,1968.05,1968.7,
1969.2,1969.55,1969.85,1969.45,1969.05,1969.7,
1970.2,1970.55,1970.85,1970.45,1970.05,1970.7,
1971.2,1971.55,1971.85,1971.45,1971.05,1971.7,
1972.2,1972.55,1972.85,1972.45,1972.05,1972.7,
1973.2,1973.55,1973.85,1973.45,1973.05,1973.7,
1974.2,1974.55,1974.85,1974.45,1974.05,1974.7,
1975.2,1975.55,1975.85,1975.45,1975.05,1975.7,
1976.2,1976.55,1976.85,1976.45,1976.05,1976.7,
1977.2,1977.55,1977.85,1977.45,1977.05,1977.7,
1978.2,1978.55,1978.85,1978.45,1978.05,1978.7,
1987.2,1987.55,1987.85,1987.45,1987.05,1987.7,
1988.2,1988.55,1988.85,1988.45,1988.05,1988.7,
1989.2,1989.55,1989.85,1989.45,1989.05,1989.7,
1990.2,1990.55,1990.85,1990.45,1990.05,1990.7,
1991.2,1991.55,1991.85,1991.45,1991.05,1991.7,
1992.2,1992.55,1992.85,1992.45,1992.05,1992.7,
1993.2,1993.55,1993.85,1993.45,1993.05,1993.7,
1994.2,1994.55,1994.85,1994.45,1994.05,1994.7,
1995.2,1995.55,1995.85,1995.45,1995.05,1995.7,
1996.2,1996.55,1996.85,1996.45,1996.05,1996.7,
1997.2,1997.55,1997.85,1997.45,1997.05,1997.7,
1998.2,1998.35,1998.45,1998.1,1998.05,1998.3
];
const ftiSqC4 = [
0.45,0.36,0.28,0.2,0.55,0.62,
0.5,0.4,0.3,0.22,0.6,0.7,
0.52,0.42,0.34,0.26,0.66,0.72,
0.48,0.38,0.3,0.22,0.58,0.68,
0.5,0.4,0.32,0.24,0.45,0.56,
0.45,0.37,0.29,0.22,0.55,0.6,
0.42,0.34,0.26,0.2,0.48,0.55,
0.38,0.3,0.22,0.15,0.48,0.54,
0.42,0.34,0.26,0.18,0.5,0.62,
0.4,0.32,0.24,0.18,0.48,0.58,
0.38,0.3,0.22,0.45,0.52,0.62,
0.45,0.35,0.26,0.18,0.12,0.55,
0.38,0.3,0.22,0.15,0.08,0.5,
0.42,0.34,0.26,0.18,0.1,0.5,
0.4,0.3,0.22,0.14,0.06,0.5,
0.36,0.28,0.2,0.13,0.06,0.45,
0.38,0.28,0.2,0.13,0.06,0.45,
0.35,0.28,0.2,0.14,0.08,0.42,
0.38,0.3,0.24,0.17,0.11,0.06,
0.32,0.26,0.2,0.14,0.09,0.04,
0.3,0.24,0.18,0.12,0.08,0.04,
0.26,0.2,0.15,0.1,0.06,0.02,
0.22,0.16,0.1,0.06,0.12,0.04
];
const dateTri4 = [1995.2,1995.8,1995.4,1998.4,1998.3,1998.2,1997.9,1997.6,1997.0,1996.2,1998.3,1998.0,1998.4,1998.1,1998.4,1997.8,1997.5,1996.8,1997.3,1998.2];
const ftiTri4 = [1.255,0.929,0.565,0.56,0.51,0.47,0.42,0.38,0.4,0.4,0.32,0.28,0.22,0.16,0.1,0.12,0.2,0.3,0.08,0.06];
const trendDate4 = [1961,1965,1969,1975,1979,1981.3,1985,1990,1994.3,1997.5];
const trendFti4 = [0.42,0.43,0.45,0.45,0.44,0.41,0.38,0.32,0.28,0.22];

// ---------- Texts ----------
const statTexts = [['r<sup>2</sup> = 0.13','p &lt; 0.001'],['r<sup>2</sup> = 0.07','p &lt; 0.001'],['r<sup>2</sup> = 0.25','p &lt; 0.001'],['r<sup>2</sup> = 0.15','p &lt; 0.001']];
// highlighted points (centres of yellow circles) in panel 3 data units
const circleAge = [33.1,32.8,33.1,77.8,77.5];
const circleFti = [1.03,0.655,0.27,0.447,0.178];
// yellow connector segments in panel 3 data units
const linkAge0 = [36.0,37.3,35.1], linkFti0 = [0.961,0.637,0.257];
const linkAge1 = [75.6,72.1,72.6], linkFti1 = [0.239,0.441,0.171];

// ---------- Styling ----------
const SERIF = 'Liberation Serif, Times New Roman, serif';
const INK = '#000000';
const NAVY = '#111a2a';
const YEL = '#f3ea14';
const W = 876, H = 638;
function px(x){return x/W;}
function py(y){return 1 - y/H;}

function axis(opts, color){
  return Object.assign({
    showgrid:false, zeroline:false, showline:true, linewidth:2, linecolor:color, mirror:true,
    ticks:'outside', ticklen:7, tickwidth:2, tickcolor:color, ticklabeloverflow:'allow',
    tickfont:{family:SERIF, size:18, color:color, weight:'bold'},
    fixedrange:true
  }, opts);
}
function sq(x,y,xa,ya,color){return {x:x,y:y,xaxis:xa,yaxis:ya,type:'scatter',mode:'markers',hoverinfo:'skip',
  marker:{symbol:'square',size:7,color:color,line:{width:0}}};}
function tri(x,y,xa,ya,color){return {x:x,y:y,xaxis:xa,yaxis:ya,type:'scatter',mode:'markers',hoverinfo:'skip',
  marker:{symbol:'triangle-up',size:9,color:color,line:{width:0}}};}
function trend(x,y,xa,ya,color){return {x:x,y:y,xaxis:xa,yaxis:ya,type:'scatter',mode:'lines',hoverinfo:'skip',
  line:{color:color,width:2,shape:'spline',smoothing:1}};}

const data = [
  sq(ageSq1,shbgSq1,'x','y',INK), sq(ageSqB1,shbgSqB1,'x','y',INK), sq(ageSqC1,shbgSqC1,'x','y',INK),
  tri(ageTri1,shbgTri1,'x','y',INK), trend(trendAge1,trendShbg1,'x','y',INK),
  sq(dateSq2,shbgSq2,'x2','y2',INK), sq(dateSqB2,shbgSqB2,'x2','y2',INK), sq(dateSqC2,shbgSqC2,'x2','y2',INK),
  tri(dateTri2,shbgTri2,'x2','y2',INK), trend(trendDate2,trendShbg2,'x2','y2',INK),
  sq(ageSq3,ftiSq3,'x3','y3',NAVY), sq(ageSqB3,ftiSqB3,'x3','y3',NAVY),
  tri(ageTri3,ftiTri3,'x3','y3',NAVY), trend(trendAge3,trendFti3,'x3','y3',NAVY),
  sq(dateSq4,ftiSq4,'x4','y4',INK), sq(dateSqB4,ftiSqB4,'x4','y4',INK), sq(dateSqC4,ftiSqC4,'x4','y4',INK),
  tri(dateTri4,ftiTri4,'x4','y4',INK), trend(trendDate4,trendFti4,'x4','y4',INK)
];

const titleFont = c => ({family:SERIF, size:21, color:c, weight:'bold'});
const statFont = c => ({family:SERIF, size:18, color:c, weight:'bold'});

const layout = {
  width:W, height:H, margin:{l:0,r:0,t:0,b:0},
  paper_bgcolor:'#ffffff', plot_bgcolor:'rgba(0,0,0,0)', showlegend:false,
  xaxis: axis({domain:[0.1541,0.5297], anchor:'y', range:[20,100], tick0:20, dtick:20,
    minor:{dtick:10, ticks:'outside', ticklen:4, tickwidth:1.5, tickcolor:INK}}, INK),
  yaxis: axis({domain:[0.5799,0.9702], anchor:'x', range:[0,300], tick0:0, dtick:50,
    minor:{dtick:10, ticks:'outside', ticklen:4, tickwidth:1.5, tickcolor:INK},
    title:{text:'SHBG (nMol/L)', font:titleFont(INK), standoff:22}}, INK),
  xaxis2: axis({domain:[0.5947,0.9897], anchor:'y2', range:[1960,2000], tick0:1960, dtick:10,
    minor:{dtick:5, ticks:'outside', ticklen:4, tickwidth:1.5, tickcolor:INK}}, INK),
  yaxis2: axis({domain:[0.5815,0.9624], anchor:'x2', range:[0,300], tick0:0, dtick:50,
    minor:{dtick:10, ticks:'outside', ticklen:4, tickwidth:1.5, tickcolor:INK}}, INK),
  xaxis3: axis({domain:[0.1564,0.5263], anchor:'y3', range:[20,100], tick0:20, dtick:20,
    minor:{dtick:10, ticks:'outside', ticklen:4, tickwidth:1.5, tickcolor:NAVY}}, NAVY),
  yaxis3: axis({domain:[0.1160,0.5000], anchor:'x3', range:[0,1.5], tick0:0, dtick:0.5, tickformat:'.1f',
    minor:{dtick:0.1, ticks:'outside', ticklen:4, tickwidth:1.5, tickcolor:NAVY},
    title:{text:'Free T Index (nMol/nMol)', font:titleFont(NAVY), standoff:22}}, NAVY),
  xaxis4: axis({domain:[0.5913,0.9897], anchor:'y4', range:[1960,2000], tick0:1960, dtick:10,
    minor:{dtick:5, ticks:'outside', ticklen:4, tickwidth:1.5, tickcolor:INK},
    title:{text:'Date (year)', font:titleFont(INK), standoff:14}}, INK),
  yaxis4: axis({domain:[0.1144,0.4984], anchor:'x4', range:[0,1.5], tick0:0, dtick:0.5, tickformat:'.1f',
    minor:{dtick:0.1, ticks:'outside', ticklen:4, tickwidth:1.5, tickcolor:INK}}, INK),
  annotations: [
    {xref:'paper', yref:'paper', x:px(272), y:py(620), xanchor:'center', yanchor:'middle',
     text:'Age (years)', showarrow:false, font:{family:SERIF, size:21, color:NAVY, weight:'bold'}}
  ],
  shapes: []
};

// stats annotations
const statPos = [[148,40,59,INK],[664,48,70,INK],[328,342,362,NAVY],[702,343,364,INK]];
statPos.forEach((p,i)=>{
  layout.annotations.push({xref:'paper',yref:'paper',x:px(p[0]),y:py(p[1]),xanchor:'left',yanchor:'middle',
    text:statTexts[i][0],showarrow:false,font:statFont(p[3])});
  layout.annotations.push({xref:'paper',yref:'paper',x:px(p[0]),y:py(p[2]),xanchor:'left',yanchor:'middle',
    text:statTexts[i][1],showarrow:false,font:statFont(p[3])});
});

// light-blue rounded panel behind lower-left chart
(function(){
  const x0=px(10), x1=px(487), yt=py(292), yb=py(637), rx=35/W, ry=35/H;
  const path = `M ${x0+rx},${yt} L ${x1-rx},${yt} Q ${x1},${yt} ${x1},${yt-ry} L ${x1},${yb+ry} Q ${x1},${yb} ${x1-rx},${yb} `+
    `L ${x0+rx},${yb} Q ${x0},${yb} ${x0},${yb+ry} L ${x0},${yt-ry} Q ${x0},${yt} ${x0+rx},${yt} Z`;
  layout.shapes.push({type:'path', xref:'paper', yref:'paper', path:path, layer:'below',
    fillcolor:'#ccd8e6', line:{width:0}});
})();

// yellow connectors
for(let i=0;i<linkAge0.length;i++){
  layout.shapes.push({type:'line', xref:'x3', yref:'y3', x0:linkAge0[i], y0:linkFti0[i], x1:linkAge1[i], y1:linkFti1[i],
    line:{color:YEL, width:5}});
}
// yellow circles
const circR = [13,13,13,17,17];
for(let i=0;i<circleAge.length;i++){
  layout.shapes.push({type:'circle', xref:'x3', yref:'y3', xsizemode:'pixel', ysizemode:'pixel',
    xanchor:circleAge[i], yanchor:circleFti[i], x0:-circR[i], x1:circR[i], y0:-circR[i], y1:circR[i],
    fillcolor: i===4 ? NAVY : 'rgba(0,0,0,0)', line:{color:YEL, width:5}});
}

Plotly.newPlot('chart', data, layout, {staticPlot:true, displayModeBar:false});
</script>
</body>
</html>
